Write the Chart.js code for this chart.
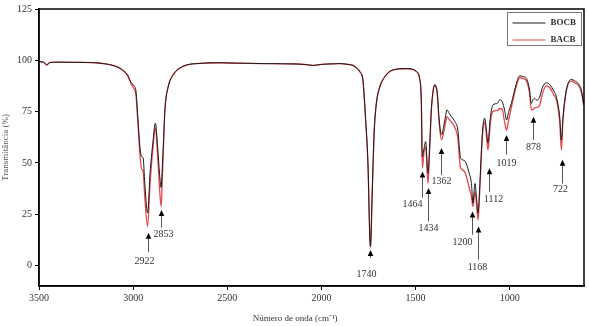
<!DOCTYPE html>
<html>
<head>
<meta charset="utf-8">
<script src="https://cdn.jsdelivr.net/npm/chart.js@4.4.1/dist/chart.umd.min.js"></script>
<style>
  html, body { margin: 0; padding: 0; background: #fff; }
  #wrap { width: 589px; height: 326px; }
</style>
</head>
<body>
<div id="wrap"><canvas id="grafico" width="589" height="326"></canvas></div>
<script>
// espectro FTIR: numero de onda (cm-1) e transmitancia (%)
const numeroOnda = [
  3500, 3480, 3465, 3458, 3445, 3400, 3300, 3200, 3150, 3100, 3060, 3030, 3010, 2995, 2985, 2975,
  2962, 2955, 2947, 2938, 2923, 2910, 2895, 2882, 2870, 2860, 2851, 2845, 2838, 2831, 2814, 2787,
  2736, 2645, 2540, 2450, 2300, 2200, 2130, 2080, 2045, 2000, 1930, 1900, 1860, 1832, 1810, 1796,
  1779, 1766, 1752, 1743, 1739, 1731, 1720, 1708, 1690, 1663, 1619, 1548, 1510, 1495, 1478, 1469,
  1464, 1455, 1446, 1434, 1425, 1416, 1405, 1398, 1390, 1384, 1375, 1362, 1350, 1340, 1333, 1320,
  1309, 1290, 1275, 1262, 1250, 1235, 1215, 1203, 1195, 1184, 1176, 1168, 1158, 1150, 1142, 1133,
  1125, 1115, 1108, 1102, 1089, 1065, 1053, 1039, 1027, 1016, 1005, 991, 964, 947, 925, 911,
  894, 885, 875, 868, 855, 841, 825, 805, 785, 765, 752, 734, 725, 717, 699, 672,
  655, 637, 619, 607
];
const bocb = [
  99.3, 99.2, 98.2, 97.7, 98.9, 99.1, 99.0, 98.8, 98.3, 97.3, 95.5, 93.0, 89.0, 87.5, 85.0, 72.0,
  56.0, 53.0, 52.5, 40.0, 25.6, 45.0, 60.0, 69.3, 58.0, 45.0, 38.0, 48.0, 62.0, 76.0, 87.0, 93.0,
  97.0, 98.5, 98.8, 98.6, 98.4, 98.3, 98.2, 97.9, 97.5, 98.0, 98.3, 98.4, 98.0, 97.5, 96.0, 94.5,
  90.0, 72.5, 48.0, 14.0, 9.2, 32.0, 64.5, 79.0, 87.0, 92.0, 95.3, 96.0, 95.5, 94.5, 91.0, 80.0,
  53.0, 57.0, 60.4, 45.0, 58.0, 76.0, 86.0, 88.0, 87.0, 84.0, 72.0, 63.6, 68.0, 73.0, 75.8, 74.0,
  72.5, 70.0, 66.0, 53.0, 51.5, 50.6, 45.0, 40.0, 30.4, 40.0, 33.0, 25.5, 40.0, 56.0, 67.7, 71.8,
  67.7, 59.6, 66.0, 72.5, 78.2, 79.0, 80.7, 79.8, 75.8, 70.9, 75.0, 79.0, 88.8, 92.4, 92.0, 91.2,
  85.5, 79.0, 81.0, 81.5, 80.5, 82.0, 87.0, 89.0, 88.0, 85.0, 82.3, 72.5, 61.2, 72.0, 85.5, 90.7,
  90.0, 88.8, 85.5, 79.0
];
const bacb = [
  99.3, 99.2, 98.2, 97.7, 98.9, 99.1, 99.0, 98.8, 98.3, 97.3, 95.5, 92.5, 88.5, 86.0, 83.0, 70.0,
  52.0, 47.0, 46.0, 33.0, 19.0, 40.0, 57.0, 67.0, 54.0, 38.0, 28.7, 42.0, 60.0, 76.0, 87.0, 93.0,
  97.0, 98.5, 98.8, 98.6, 98.4, 98.3, 98.2, 97.9, 97.5, 98.0, 98.3, 98.4, 98.0, 97.5, 96.0, 94.5,
  90.0, 72.5, 48.0, 14.0, 9.0, 32.0, 64.5, 79.0, 87.0, 92.0, 95.3, 95.8, 95.3, 94.5, 91.0, 79.0,
  47.4, 55.0, 58.0, 40.0, 56.0, 75.0, 86.0, 88.0, 86.5, 83.0, 70.0, 61.2, 65.0, 70.0, 72.5, 71.0,
  70.0, 67.0, 62.0, 48.0, 46.6, 45.0, 38.0, 33.6, 28.7, 36.0, 30.0, 22.2, 38.0, 54.0, 66.0, 70.0,
  65.0, 56.3, 63.0, 70.0, 75.0, 75.5, 76.5, 76.0, 70.0, 66.0, 71.0, 77.0, 87.5, 91.5, 91.0, 90.0,
  84.0, 75.8, 76.0, 76.8, 77.0, 78.0, 84.0, 87.5, 86.5, 83.0, 81.0, 70.0, 56.3, 70.0, 85.0, 90.0,
  89.0, 88.0, 84.5, 78.0
];

const ticksX = [3500, 3000, 2500, 2000, 1500, 1000];
const ticksY = [0, 25, 50, 75, 100, 125];

// picos marcados com seta
const picos = ['2922', '2853', '1740', '1464', '1434', '1362', '1200', '1168', '1112', '1019', '878', '722'];

const fonte = 'Liberation Serif, Times New Roman, serif';

// posicao das setas (ponta, fim da haste, texto) em %T, deslocamento do texto em px
const setas = {
  '2922': { ponta: 16, fim: 6.5, texto: 2, dx: -4 },
  '2853': { ponta: 27, fim: 18.4, texto: 15.3, dx: 2 },
  '1740': { ponta: 7.6, fim: 3.7, texto: -4.5, dx: -4 },
  '1464': { ponta: 45.8, fim: 33, texto: 30, dx: -10 },
  '1434': { ponta: 37.8, fim: 21.4, texto: 18, dx: 0 },
  '1362': { ponta: 57.3, fim: 44, texto: 41.2, dx: 0 },
  '1200': { ponta: 26.3, fim: 15, texto: 11.2, dx: -10 },
  '1168': { ponta: 19, fim: 2.8, texto: -1.1, dx: -1 },
  '1112': { ponta: 47.4, fim: 36, texto: 32, dx: 4 },
  '1019': { ponta: 63.6, fim: 54, texto: 49.8, dx: 0 },
  '878':  { ponta: 72.5, fim: 61.2, texto: 57.5, dx: 0 },
  '722':  { ponta: 51.5, fim: 40, texto: 36.9, dx: -2 }
};

const setasPlugin = {
  id: 'setas',
  afterDatasetsDraw(chart) {
    const ctx = chart.ctx;
    const x = chart.scales.x, y = chart.scales.y;
    ctx.save();
    picos.forEach(p => {
      const s = setas[p];
      const px = Math.round(x.getPixelForValue(parseFloat(p))) + 0.5;
      const yp = y.getPixelForValue(s.ponta);
      const yf = y.getPixelForValue(s.fim);
      // haste
      ctx.strokeStyle = '#555';
      ctx.lineWidth = 1;
      ctx.beginPath();
      ctx.moveTo(px, yp + 4);
      ctx.lineTo(px, yf);
      ctx.stroke();
      // ponta
      ctx.fillStyle = '#000';
      ctx.beginPath();
      ctx.moveTo(px, yp);
      ctx.lineTo(px - 2.8, yp + 6);
      ctx.lineTo(px + 2.8, yp + 6);
      ctx.closePath();
      ctx.fill();
      // texto
      ctx.fillStyle = '#333';
      ctx.font = '10px ' + fonte;
      ctx.textAlign = 'center';
      ctx.textBaseline = 'middle';
      ctx.fillText(p, px + s.dx, y.getPixelForValue(s.texto));
    });
    ctx.restore();
  }
};

const molduraPlugin = {
  id: 'moldura',
  afterDraw(chart) {
    const ctx = chart.ctx;
    const a = chart.chartArea;
    ctx.save();
    ctx.strokeStyle = '#000';
    ctx.lineWidth = 1.5;
    ctx.strokeRect(a.left, a.top, a.right - a.left, a.bottom - a.top);

    // legenda
    const lx = 507.5, ly = 12.5, lw = 74, lh = 33;
    ctx.lineWidth = 1;
    ctx.strokeStyle = '#777';
    ctx.strokeRect(lx, ly, lw, lh);
    chart.data.datasets.forEach((ds, i) => {
      const yy = ly + 10.5 + i * 17;
      ctx.strokeStyle = ds.borderColor;
      ctx.lineWidth = 1;
      ctx.beginPath();
      ctx.moveTo(lx + 5, yy);
      ctx.lineTo(lx + 38, yy);
      ctx.stroke();
      ctx.fillStyle = '#333';
      ctx.font = 'bold 9px ' + fonte;
      ctx.textAlign = 'left';
      ctx.textBaseline = 'middle';
      ctx.fillText(ds.label, lx + 43, yy);
    });

    // titulo do eixo x
    ctx.fillStyle = '#333';
    ctx.font = '9px ' + fonte;
    ctx.textAlign = 'center';
    ctx.textBaseline = 'middle';
    ctx.fillText('Número de onda (cm⁻¹)', a.left + (a.right - a.left) * 0.47, 319);
    ctx.restore();
  }
};

const grafico = new Chart(document.getElementById('grafico'), {
  type: 'line',
  data: {
    datasets: [{
      label: 'BOCB',
      data: numeroOnda.map((v, i) => ({ x: v, y: bocb[i] })),
      borderColor: '#1a1a1a',
      borderWidth: 1,
      pointRadius: 0,
      cubicInterpolationMode: 'monotone',
      order: 0
    }, {
      label: 'BACB',
      data: numeroOnda.map((v, i) => ({ x: v, y: bacb[i] })),
      borderColor: '#e8474a',
      borderWidth: 1.3,
      pointRadius: 0,
      cubicInterpolationMode: 'monotone',
      order: 1
    }]
  },
  options: {
    responsive: false,
    animation: false,
    layout: { padding: { top: 9, right: 5, left: 0, bottom: 0 } },
    plugins: { legend: { display: false }, tooltip: { enabled: false } },
    scales: {
      x: {
        type: 'linear',
        reverse: true,
        min: 605,
        max: 3500,
        afterBuildTicks: s => { s.ticks = ticksX.map(v => ({ value: v })); },
        afterFit: s => { s.height = 40; },
        grid: { drawOnChartArea: false, tickLength: 4, color: '#000' },
        border: { color: '#000', width: 1.5 },
        ticks: { color: '#333', font: { family: fonte, size: 10 }, padding: 2, maxRotation: 0, callback: v => String(v) }
      },
      y: {
        min: -10,
        max: 125,
        afterBuildTicks: s => { s.ticks = ticksY.map(v => ({ value: v })); },
        afterFit: s => { s.width = 39; },
        grid: { drawOnChartArea: false, tickLength: 4, color: '#000' },
        border: { color: '#000', width: 1.5 },
        ticks: { color: '#333', font: { family: fonte, size: 10 }, padding: 3, callback: v => String(v) },
        title: { display: true, text: 'Transmitância (%)', color: '#555', font: { family: fonte, size: 9 }, padding: 0 }
      }
    }
  },
  plugins: [setasPlugin, molduraPlugin]
});
</script>
</body>
</html>
